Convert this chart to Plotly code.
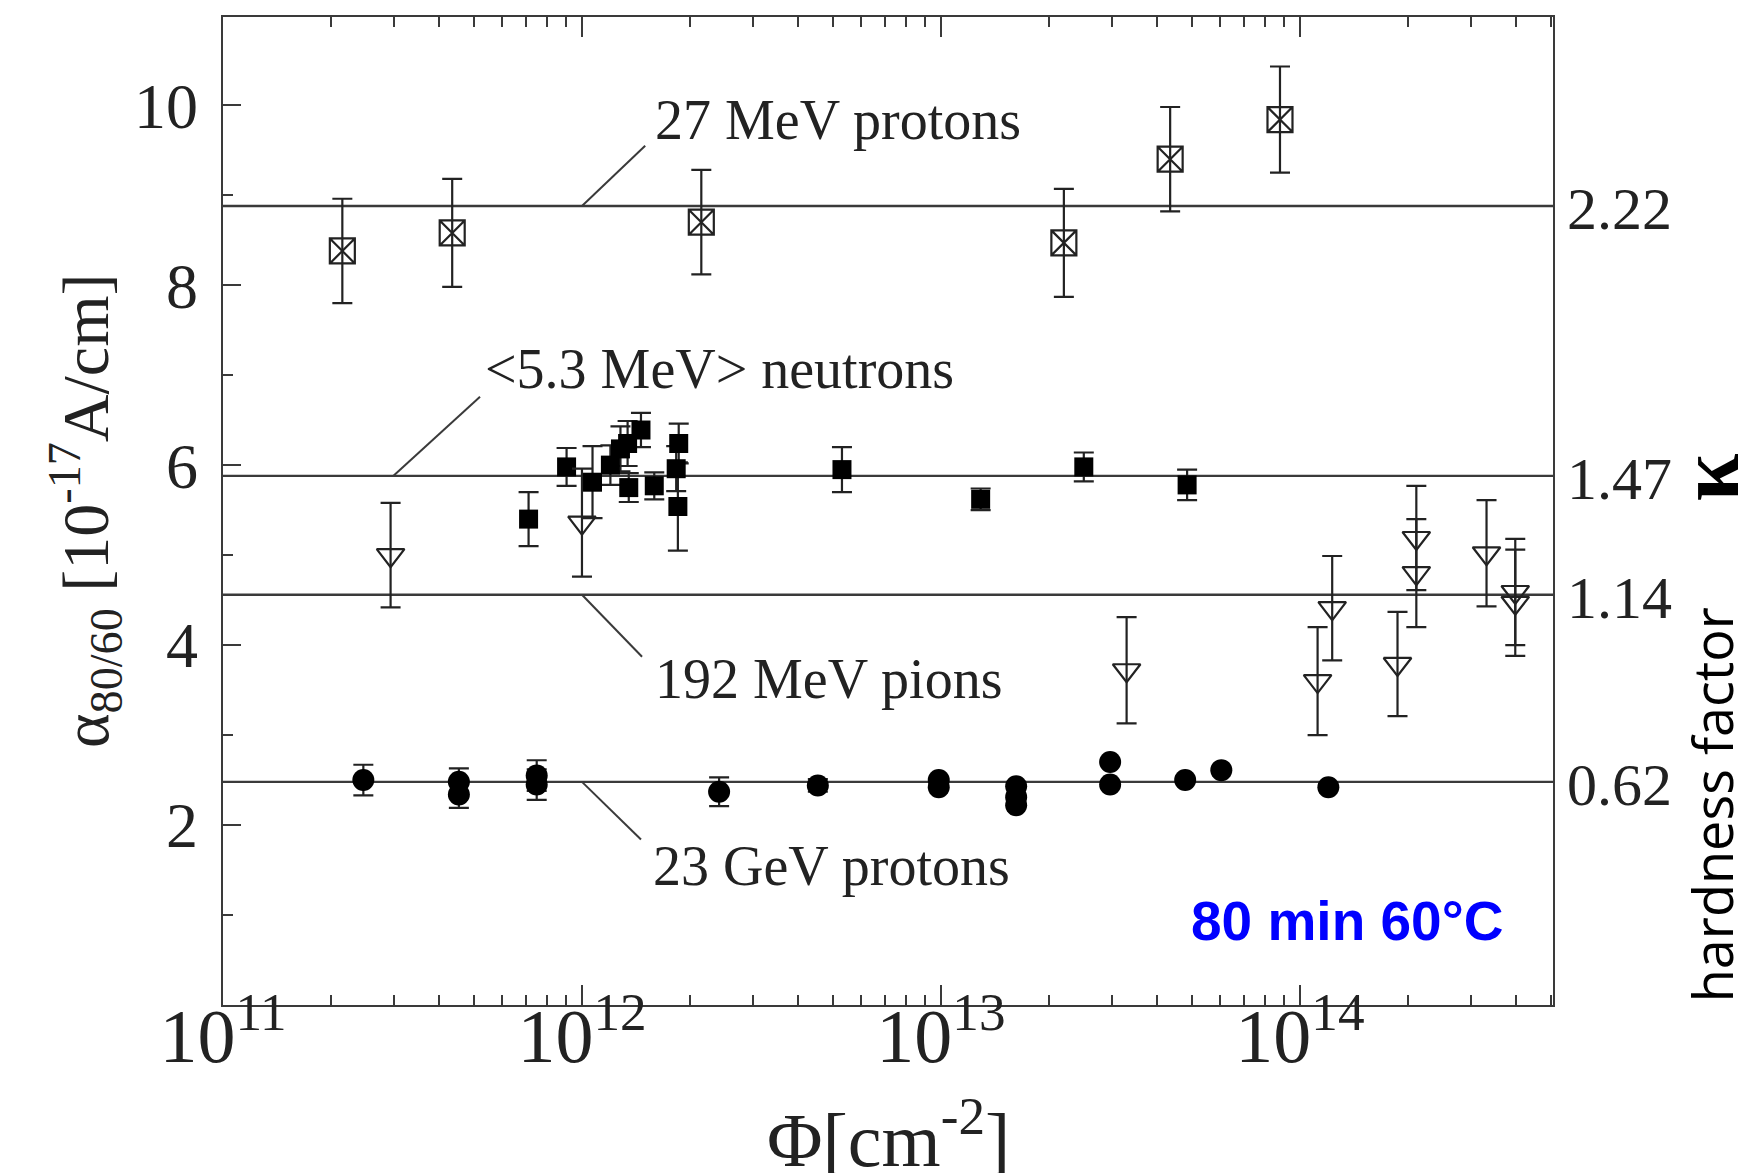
import math
import plotly.graph_objects as go

# ---------------- data ----------------
# 27 MeV protons (open square with cross)
p27_x = [2.15e11, 4.35e11, 2.15e12, 2.2e13, 4.35e13, 8.8e13]
p27_y = [8.38, 8.58, 8.70, 8.47, 9.40, 9.84]
p27_err = [0.58, 0.60, 0.58, 0.60, 0.58, 0.59]

# <5.3 MeV> neutrons (filled squares)
n_x = [7.1e11, 9.06e11, 1.07e12, 1.20e12, 1.28e12, 1.34e12, 1.35e12, 1.46e12,
       1.59e12, 1.83e12, 1.86e12, 1.85e12, 5.3e12, 1.29e13, 2.5e13, 4.85e13]
n_y = [5.40, 5.98, 5.81, 6.00, 6.18, 6.24, 5.75, 6.39,
       5.77, 5.96, 6.24, 5.54, 5.95, 5.62, 5.98, 5.78]
n_err = [0.30, 0.21, 0.40, 0.22, 0.25, 0.25, 0.16, 0.19,
         0.15, 0.25, 0.22, 0.49, 0.25, 0.12, 0.16, 0.17]

# 192 MeV pions (open down triangles)
pi_x = [2.93e11, 1.0e12, 3.29e13, 1.12e14, 1.23e14, 1.87e14, 2.11e14, 2.11e14,
        3.31e14, 3.98e14, 3.98e14]
pi_y = [5.00, 5.36, 3.72, 3.60, 4.41, 3.79, 5.19, 4.80, 5.02, 4.59, 4.47]
pi_err = [0.58, 0.60, 0.59, 0.60, 0.58, 0.58, 0.58, 0.60, 0.59, 0.59, 0.59]

# 23 GeV protons (filled circles)
g_x = [2.46e11, 4.54e11, 4.54e11, 7.48e11, 7.48e11, 2.41e12, 4.54e12, 9.86e12,
       9.86e12, 1.62e13, 1.62e13, 1.62e13, 2.96e13, 2.96e13, 4.79e13, 6.04e13, 1.2e14]
g_y = [2.50, 2.48, 2.34, 2.55, 2.45, 2.37, 2.44, 2.50,
       2.42, 2.43, 2.31, 2.22, 2.70, 2.45, 2.50, 2.61, 2.42]
g_err = [0.17, 0.15, 0.15, 0.17, 0.17, 0.16, 0.07, 0.0,
         0.0, 0.0, 0.0, 0.0, 0.0, 0.0, 0.0, 0.0, 0.0]

# fit lines (alpha = 4.0 * kappa) and hardness factors
fit_y = [8.88, 5.88, 4.56, 2.48]
kappa_labels = ["2.22", "1.47", "1.14", "0.62"]

# line labels and leader lines
label_text = ["27 MeV protons", "&lt;5.3 MeV&gt; neutrons", "192 MeV pions", "23 GeV protons"]
label_x = [1.58e12, 5.3e11, 1.58e12, 1.56e12]
label_y = [9.84, 7.07, 3.62, 1.55]
leader_x0 = [1.0e12, 2.98e11, 1.0e12, 1.0e12]
leader_y0 = [8.88, 5.88, 4.56, 2.48]
leader_x1 = [1.5e12, 5.2e11, 1.47e12, 1.46e12]
leader_y1 = [9.55, 6.76, 3.87, 1.84]

x_major = [1e11, 1e12, 1e13, 1e14]
x_major_text = ["10<sup>11</sup>", "10<sup>12</sup>", "10<sup>13</sup>", "10<sup>14</sup>"]
x_minor = [k * 10.0 ** e for e in range(11, 15) for k in range(2, 10)]
y_major = [2, 4, 6, 8, 10]
y_minor = [1, 3, 5, 7, 9]

INK = "#222222"
LINE = "#3a3a3a"
SERIF = "Liberation Serif"

fig = go.Figure()

err_style = dict(type="data", visible=True, color=INK, thickness=2.2, width=10)

fig.add_trace(go.Scatter(
    x=g_x, y=g_y, mode="markers",
    marker=dict(symbol="circle", size=22, color="black"),
    error_y=dict(array=g_err, **err_style), showlegend=False))
fig.add_trace(go.Scatter(
    x=n_x, y=n_y, mode="markers",
    marker=dict(symbol="square", size=19, color="black"),
    error_y=dict(array=n_err, **err_style), showlegend=False))
fig.add_trace(go.Scatter(
    x=pi_x, y=pi_y, mode="markers",
    marker=dict(symbol="triangle-down-open", size=24, color=INK, line=dict(width=2.2, color=INK)),
    error_y=dict(array=pi_err, **err_style), showlegend=False))
fig.add_trace(go.Scatter(
    x=p27_x, y=p27_y, mode="markers",
    marker=dict(symbol="square-x-open", size=25, color=INK, line=dict(width=2.2, color=INK)),
    error_y=dict(array=p27_err, **err_style), showlegend=False))

shapes = []
for yv in fit_y:
    shapes.append(dict(type="line", xref="paper", x0=0, x1=1, yref="y", y0=yv, y1=yv,
                       line=dict(color=LINE, width=2.4), layer="below"))
for x0, y0, x1, y1 in zip(leader_x0, leader_y0, leader_x1, leader_y1):
    shapes.append(dict(type="line", xref="x", yref="y", x0=x0, y0=y0, x1=x1, y1=y1,
                       line=dict(color=LINE, width=2)))

annotations = []
for t, xv, yv in zip(label_text, label_x, label_y):
    annotations.append(dict(text=t, x=math.log10(xv), y=yv, xref="x", yref="y",
                            xanchor="left", yanchor="middle", showarrow=False,
                            font=dict(family=SERIF, size=56, color=INK)))
for t, yv in zip(kappa_labels, fit_y):
    annotations.append(dict(text=t, x=1, y=yv, xref="paper", yref="y", xanchor="left",
                            yanchor="middle", xshift=12, yshift=-3, showarrow=False,
                            font=dict(family=SERIF, size=60, color=INK)))

annotations.append(dict(text="80 min 60°C", x=0.964, y=0.93, xref="paper", yref="y",
                        xanchor="right", yanchor="middle", showarrow=False,
                        font=dict(family="Liberation Sans", size=55, color="#0000FF", weight="bold")))
annotations.append(dict(text="hardness factor", x=1.1195, y=2.23, xref="paper", yref="y",
                        xanchor="center", yanchor="middle", textangle=-90, showarrow=False,
                        font=dict(family="Open Sans", size=54, color="black")))
annotations.append(dict(text="κ", x=1.117, y=5.86, xref="paper", yref="y",
                        xanchor="center", yanchor="middle", textangle=-90, showarrow=False,
                        font=dict(family=SERIF, size=86, color="black", weight="bold")))
annotations.append(dict(text="α<sub>80/60</sub> [10<sup>-17</sup>A/cm]", x=0, y=0.5,
                        xref="paper", yref="paper", xanchor="center", yanchor="middle",
                        xshift=-138, textangle=-90, showarrow=False,
                        font=dict(family=SERIF, size=66, color=INK)))
annotations.append(dict(text="Φ[cm<sup>-2</sup>]", x=0.5, y=0, xref="paper", yref="paper",
                        xanchor="center", yanchor="top", yshift=-80, showarrow=False,
                        font=dict(family=SERIF, size=76, color=INK)))

fig.update_layout(
    width=1751, height=1173,
    margin=dict(l=223, r=198, t=17, b=168),
    paper_bgcolor="white", plot_bgcolor="white",
    shapes=shapes, annotations=annotations,
    xaxis=dict(type="log", range=[11, 14.705], showgrid=False, zeroline=False,
               showline=True, linecolor=LINE, linewidth=2.4, mirror="ticks",
               ticks="inside", ticklen=20, tickwidth=2, tickcolor=LINE,
               tickvals=x_major, ticktext=x_major_text, ticklabelstandoff=-36,
               tickfont=dict(family=SERIF, size=76, color=INK),
               minor=dict(tickvals=x_minor, ticks="inside", ticklen=10, tickwidth=2,
                          tickcolor=LINE, showgrid=False)),
    yaxis=dict(range=[0, 10.98], showgrid=False, zeroline=False,
               showline=True, linecolor=LINE, linewidth=2.4, mirror=True,
               ticks="inside", ticklen=18, tickwidth=2, tickcolor=LINE,
               tickvals=y_major, ticktext=[str(v) for v in y_major],
               tickfont=dict(family=SERIF, size=64, color=INK), ticklabelstandoff=10,
               minor=dict(tickvals=y_minor, ticks="inside", ticklen=10, tickwidth=2,
                          tickcolor=LINE, showgrid=False)),
)

fig.write_html("out.html")
